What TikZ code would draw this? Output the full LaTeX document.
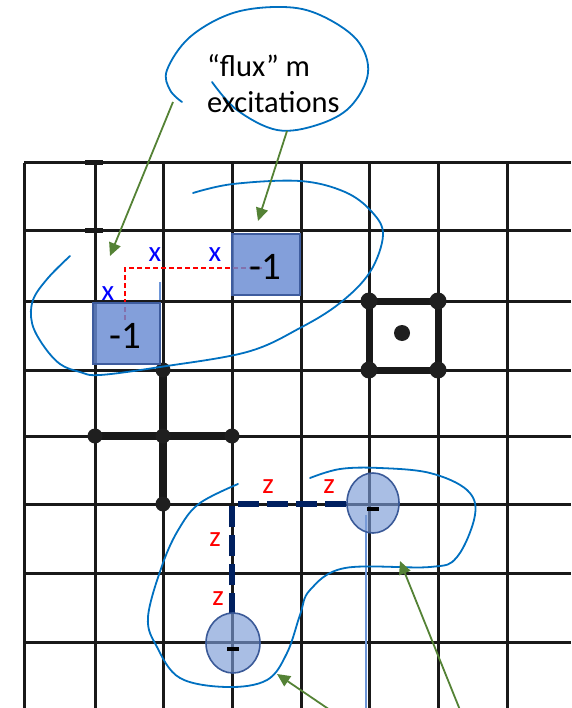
\documentclass[tikz,border=0pt]{standalone}
\usepackage{fontspec}
\setmainfont{Carlito}
\usetikzlibrary{arrows.meta}
\definecolor{loopblue}{RGB}{0,112,192}
\definecolor{arrgreen}{RGB}{84,130,53}
\definecolor{sqfill}{RGB}{104,138,210}
\definecolor{sqborder}{RGB}{62,92,158}
\definecolor{chfill}{RGB}{123,155,214}
\definecolor{chborder}{RGB}{59,90,152}
\definecolor{navy}{RGB}{0,32,96}
\definecolor{thinblue}{RGB}{110,150,216}
\begin{document}
\begin{tikzpicture}[x=1pt,y=-1pt,
  gridline/.style={line width=3pt, draw=black!90},
  thickop/.style={line width=8.5pt, draw=black!90},
  opdot/.style={fill=black!88, draw=none},
  handloop/.style={draw=loopblue, line width=1.8pt, line cap=round},
  greenarrow/.style={draw=arrgreen, line width=1.8pt, -{Triangle[length=13pt,width=12pt]}},
  fluxsq/.style={draw=sqborder, line width=1.6pt, fill=sqfill, fill opacity=0.82},
  chargeell/.style={draw=chborder, line width=1.6pt, fill=chfill, fill opacity=0.65},
  labx/.style={text=blue, font=\fontsize{29}{31}\selectfont, inner sep=0pt},
  labz/.style={text=red, font=\fontsize{29}{31}\selectfont, inner sep=0pt},
  minusone/.style={text=black, font=\fontsize{39}{41}\selectfont, inner sep=0pt},
  calltext/.style={text=black, font=\fontsize{30.5}{36}\selectfont, inner sep=0pt, anchor=base west},
  zpath/.style={draw=navy, line width=6pt, dash pattern=on 21pt off 8pt},
  xpath/.style={draw=red, line width=1.8pt, dash pattern=on 5pt off 3pt}
]
\path[use as bounding box] (0,0) rectangle (571,708);

% grid
\foreach \gx in {24,95,163,232,301,369,438,507}
  \draw[gridline] (\gx,163) -- (\gx,708);
\foreach \gy in {163,231,301,370,436,504,573,642}
  \draw[gridline] (24,\gy) -- (571,\gy);
% small tick marks
\draw[line width=5pt, black!90] (85,163) -- (103,163);
\draw[line width=5pt, black!90] (85,231) -- (103,231);

% star (vertex) operator
\coordinate (sc) at (163,436);
\coordinate (sl) at (95,436);
\coordinate (sr) at (232,436);
\coordinate (st) at (163,370);
\coordinate (sb) at (163,504);
\draw[thickop] (sl) -- (sr);
\draw[thickop] (st) -- (sb);
\foreach \p in {sc,sl,sr,st,sb} \fill[opdot] (\p) circle (7.5pt);

% plaquette operator
\coordinate (p1) at (369,301);
\coordinate (p2) at (438,301);
\coordinate (p3) at (438,370);
\coordinate (p4) at (369,370);
\draw[line width=7pt, black!90, line join=round] (p1) -- (p2) -- (p3) -- (p4) -- cycle;
\foreach \p in {p1,p2,p3,p4} \fill[opdot] (\p) circle (8.5pt);
\fill[opdot] (402,333) circle (8pt);

% x-string (red dashed)
\coordinate (xa) at (125,320);
\coordinate (xb) at (125,268);
\coordinate (xc) at (263,268);
\draw[xpath] (xa) -- (xb) -- (xc);

% flux squares
\draw[fluxsq] (93,303) rectangle (160,364);
\draw[fluxsq] (232,234) rectangle (300,295);
\node[minusone] (m1) at (125,336) {-1};
\node[minusone] (m2) at (265,267) {-1};

% small blue tick
\draw[thinblue, line width=1.8pt] (160,282) -- (160,300);

% x labels
\node[labx] (x1) at (155,255) {x};
\node[labx] (x2) at (215,255) {x};
\node[labx] (x3) at (108,294) {x};

% z-string (navy dashed)
\coordinate (za) at (232,614);
\coordinate (zb) at (232,504);
\coordinate (zc) at (347,504);
\draw[zpath] (za) -- (zb) -- (zc);

% thin blue line below charge
\draw[thinblue, line width=2pt] (366,515) -- (366,708);

% charges
\draw[chargeell] (373,503) ellipse [x radius=26, y radius=30];
\draw[chargeell] (233,643) ellipse [x radius=27, y radius=30];
\fill[black] (367,507) rectangle (379,511);
\fill[black] (227,647) rectangle (239,651);

% z labels
\node[labz] (z1) at (268,487) {z};
\node[labz] (z2) at (329,487) {z};
\node[labz] (z3) at (215,540) {z};
\node[labz] (z4) at (218,599) {z};

% hand-drawn loops
\draw[handloop] plot[smooth, tension=0.6] coordinates {(193,193) (233,184) (300,181) (345,192) (372,212) (383,235) (370,272) (340,303) (300,328) (247,352) (160,367) (100,375) (80,372) (60,364) (43,345) (32,323) (33,300) (48,278) (70,256)};
\draw[handloop] plot[smooth, tension=0.6] coordinates {(238,484) (200,503) (180,527) (163,563) (148,617) (157,647) (180,678) (227,687) (267,680) (287,653) (300,615) (310,590) (345,568) (430,567) (457,557) (475,515) (467,490) (430,473) (380,468) (340,469) (310,478)};

% callout loop and text
\draw[handloop] plot[smooth, tension=0.6] coordinates {(212,82) (237,110) (277,130) (317,125) (350,107) (368,73) (357,40) (320,15) (283,7) (233,13) (190,37) (167,70) (170,90) (182,102)};
\node[calltext] (t1) at (207,77) {“flux” m};
\node[calltext] (t2) at (207,113) {excitations};

% green arrows
\coordinate (g1s) at (173,102);
\coordinate (g1e) at (110,256);
\coordinate (g2s) at (287,131);
\coordinate (g2e) at (258,221);
\coordinate (g3s) at (330,710);
\coordinate (g3e) at (277,674);
\coordinate (g4s) at (460,710);
\coordinate (g4e) at (400,561);
\draw[greenarrow] (g1s) -- (g1e);
\draw[greenarrow] (g2s) -- (g2e);
\draw[greenarrow] (g3s) -- (g3e);
\draw[greenarrow] (g4s) -- (g4e);
\end{tikzpicture}
\end{document}
